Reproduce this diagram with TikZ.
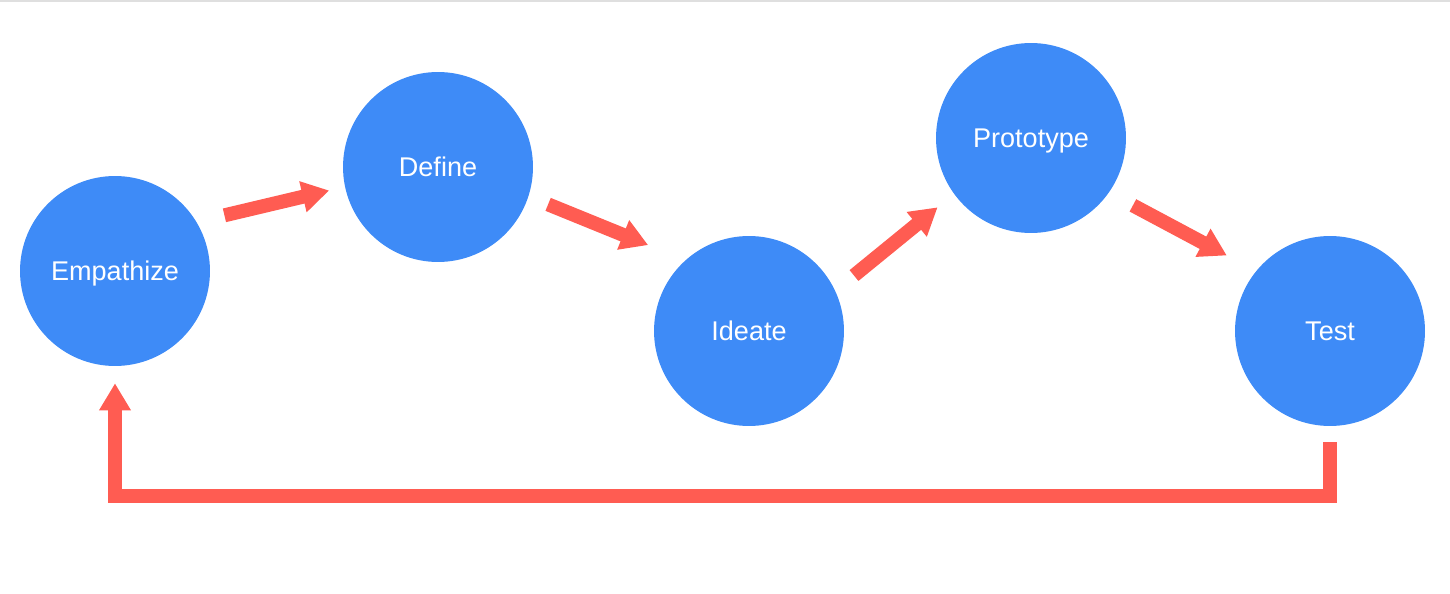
\documentclass[tikz,border=0pt]{standalone}
\usepackage{fontspec}
\setmainfont{Liberation Sans}
\usetikzlibrary{arrows.meta}

\definecolor{stageblue}{RGB}{62,139,247}
\definecolor{flowred}{RGB}{255,92,82}

\begin{document}
\begin{tikzpicture}
[
    x = 0.02cm, y = -0.02cm,
    stage/.style = {circle, fill = stageblue, text = white, inner sep = 0pt,
                    minimum size = 3.8cm, text depth = 0pt,
                    font = \fontsize{15.4}{18}\selectfont},
    flow/.style  = {draw = flowred, line width = 0.28cm, line join = miter,
                    -{Triangle[length = 0.54cm, width = 0.6cm]}},
]
\useasboundingbox (0,0) rectangle (1450,594);
\fill[gray!25] (0,0) rectangle (1450,2);

\node[stage] (emp) at (115,271)  {Empathize};
\node[stage] (def) at (438,167)  {Define};
\node[stage] (ide) at (749,331)  {Ideate};
\node[stage] (pro) at (1031,138) {Prototype};
\node[stage] (tes) at (1330,331) {Test};

\draw[flow, shorten <= 0.57cm, shorten >= 0.32cm] (emp.31)  -- (def.192);
\draw[flow, shorten <= 0.42cm, shorten >= 0.8cm]  (def.-18) -- (ide.132);
\draw[flow, shorten <= 0.48cm, shorten >= 0.42cm] (ide.25)  -- (pro.216);
\draw[flow, shorten <= 0.54cm, shorten >= 0.66cm] (pro.-35) -- (tes.141);

% back to the start
\coordinate (base) at (0,496);
\draw[flow, shorten <= 0.32cm, shorten >= 0.34cm]
    (tes.south) -- (tes.south |- base) -| (emp.south);
\end{tikzpicture}
\end{document}
